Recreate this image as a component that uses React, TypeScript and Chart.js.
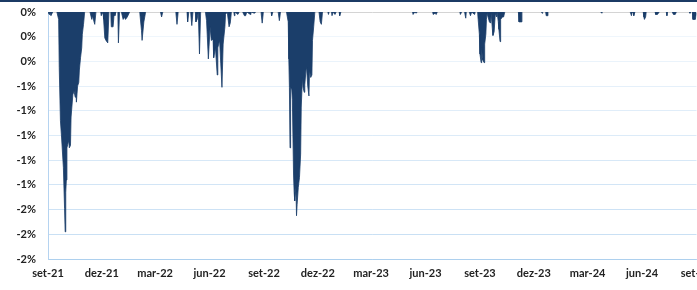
import React, { useEffect, useRef } from "react";
import { Chart, registerables } from "chart.js";

Chart.register(...registerables);

// Days counted from 2021-09-01 (set-21) and the drawdown in % on that day
const drawdownDay: number[] = [
  0, 2, 3, 5, 8,
  15, 18, 19, 21, 23, 26, 28, 29, 30, 31, 32, 35, 36, 38, 39, 42, 44, 46, 47, 48, 50, 52, 53, 55, 57, 58, 60, 62,
  71, 74, 75, 79, 81, 89, 90, 93, 94, 96, 98, 101, 103, 106, 107, 110, 112, 113, 115, 118, 119, 121,
  124, 127, 129, 131, 134, 138, 155, 158, 159, 162, 165, 190, 192, 194, 216, 218, 220, 235, 236, 238,
  241, 243, 245, 249, 250, 252, 254, 256, 258,
  266, 268, 271, 274, 276, 279, 280, 283, 286, 287, 290, 292, 294, 296, 299, 300, 303, 306, 308, 310,
  314, 315, 316, 321, 323, 329, 332, 334, 336, 342, 343, 349, 351, 360, 362, 364, 377, 378, 380, 389, 391, 393,
  403, 406, 407, 408, 409, 410, 412, 413, 415, 416, 417, 419, 420, 421, 423, 425, 427, 428, 430, 431, 433, 434,
  436, 437, 439, 441, 442, 444, 446, 447, 449, 451,
  458, 460, 462, 464, 473, 474, 475, 479, 480, 482, 485, 487, 492, 493, 495,
  616, 617, 620, 622, 624, 650, 651, 654, 656, 658, 696, 697, 699, 704, 706, 707, 712, 714, 716, 721, 722,
  726, 727, 729, 730, 732, 733, 734, 735, 737, 738, 740, 741, 742, 746, 748, 749, 751, 752, 754, 756, 758, 759,
  761, 762, 764, 765, 768, 770, 772, 795, 796, 800, 801, 834, 835, 836, 841, 842, 844, 845,
  934, 936, 937, 984, 986, 987, 989, 990, 992, 1006, 1007, 1008, 1010, 1011, 1026, 1027, 1030, 1033,
  1045, 1046, 1047, 1055, 1057, 1060, 1062, 1084, 1085, 1086, 1089, 1090, 1094, 1096,
];

const drawdownPct: number[] = [
  0, -0.02, 0, -0.03, 0,
  0, -0.06, -0.45, -0.88, -1.02, -1.26, -1.59, -1.78, -1.46, -1.36, -1.1, -1.04, -1.1, -1.08, -0.85, -0.67, -0.64, -0.69, -0.61, -0.73, -0.6, -0.57, -0.47, -0.37, -0.29, -0.18, -0.1, 0,
  0, -0.06, -0.03, -0.1, 0, 0, -0.03, 0, -0.06, -0.21, -0.23, -0.25, 0, 0, -0.12, -0.12, 0, -0.03, 0, 0, -0.25, 0,
  0, -0.06, -0.04, -0.06, -0.04, 0, 0, -0.15, -0.23, -0.08, 0, 0, -0.04, 0, 0, -0.1, 0, 0, -0.08, 0,
  0, -0.11, 0, 0, -0.08, -0.06, 0, -0.34, 0,
  0, -0.07, -0.38, -0.12, -0.23, -0.22, -0.37, -0.29, -0.51, -0.29, -0.23, -0.42, -0.61, -0.26, -0.12, -0.02, 0, -0.12, -0.09, 0,
  0, -0.03, 0, -0.02, 0, 0, -0.03, -0.03, 0, -0.02, 0, -0.01, 0, 0, -0.09, 0, 0, -0.03, 0, 0, -0.07, 0,
  0, -0.08, -0.38, -0.61, -1.1, -0.61, -0.63, -0.71, -1.32, -1.46, -1.53, -1.42, -1.65, -1.56, -1.42, -1.34, -1.15, -0.77, -0.53, -0.61, -0.65, -0.59,
  -0.47, -0.45, -0.6, -0.68, -0.47, -0.53, -0.51, -0.23, -0.12, 0,
  0, -0.08, -0.1, 0, 0, -0.02, 0, 0, -0.03, 0, -0.02, 0, 0, -0.03, 0,
  0, -0.02, 0, -0.01, 0, 0, -0.02, -0.01, -0.02, 0, 0, -0.02, 0, 0, -0.05, 0, 0, -0.03, 0, -0.02, 0,
  0, -0.06, -0.18, -0.34, -0.41, -0.29, -0.37, -0.39, -0.41, -0.26, -0.18, -0.06, -0.01, -0.08, -0.09, -0.01, -0.14, -0.19, -0.16, -0.01, -0.04, 0,
  -0.08, -0.14, -0.24, -0.06, -0.04, -0.04, 0, 0, -0.08, -0.08, 0, 0, -0.01, 0, 0, -0.03, -0.03, 0,
  0, -0.01, 0, 0, -0.03, -0.01, 0, -0.03, 0, 0, -0.04, -0.06, -0.04, 0, 0, -0.02, -0.02, 0,
  0, -0.03, 0, 0, -0.02, -0.02, 0, 0, -0.01, 0, 0, -0.06, -0.06, -0.01,
];

// Quarterly x-axis ticks (days from 2021-09-01) and their labels
const quarterTickDays: number[] = [0, 91, 181, 273, 365, 456, 546, 638, 730, 821, 912, 1004, 1096];
const quarterTickLabels: string[] = [
  "set-21", "dez-21", "mar-22", "jun-22", "set-22", "dez-22", "mar-23",
  "jun-23", "set-23", "dez-23", "mar-24", "jun-24", "set-24",
];

// Y-axis range and step (in %)
const yMin = -2;
const yMax = 0;
const yStep = 0.2;

const NAVY = "#1b3e6a";

function gridColorFor(v: number): string {
  if (Math.abs(v) < 1e-9) return "#d4d4d4";
  const depth = Math.min(1, Math.abs(v) / 2);
  const alpha = 0.12 + depth * 0.5;
  return `rgba(160, 200, 236, ${alpha.toFixed(3)})`;
}

export default function App() {
  const canvasRef = useRef<HTMLCanvasElement | null>(null);

  useEffect(() => {
    const canvas = canvasRef.current;
    if (!canvas) return;
    const points = drawdownDay.map((d, i) => ({ x: d, y: drawdownPct[i] }));

    const chart = new Chart(canvas, {
      type: "line",
      data: {
        datasets: [
          {
            data: points,
            borderColor: NAVY,
            backgroundColor: NAVY,
            borderWidth: 0.8,
            pointRadius: 0,
            tension: 0,
            fill: "origin",
            segment: {
              borderColor: (ctx: any) =>
                ctx.p0.parsed.y === 0 && ctx.p1.parsed.y === 0 ? "rgba(0,0,0,0)" : NAVY,
            },
          },
        ],
      },
      options: {
        animation: false,
        responsive: false,
        devicePixelRatio: 1,
        layout: { padding: { top: 12, right: 43.5, bottom: 0, left: 0 } },
        plugins: { legend: { display: false }, tooltip: { enabled: false } },
        scales: {
          x: {
            type: "linear",
            min: quarterTickDays[0],
            max: quarterTickDays[quarterTickDays.length - 1],
            afterBuildTicks: (scale: any) => {
              scale.ticks = quarterTickDays.map((v) => ({ value: v }));
            },
            afterFit: (scale: any) => {
              scale.height = 31;
            },
            grid: { display: false, drawTicks: false },
            border: { display: true, color: "rgba(160, 200, 236, 0.62)" },
            ticks: {
              autoSkip: false,
              maxRotation: 0,
              padding: 8,
              color: "#222",
              font: { family: "Lato", size: 11, weight: "bold" },
              callback: (v: any) => {
                const i = quarterTickDays.indexOf(Number(v));
                return i >= 0 ? quarterTickLabels[i] : "";
              },
            },
          },
          y: {
            min: yMin,
            max: yMax,
            afterFit: (scale: any) => {
              scale.width = 48;
              scale.paddingTop = 6;
              scale.paddingBottom = 6;
            },
            grid: {
              drawTicks: false,
              color: (ctx: any) => gridColorFor(ctx.tick ? ctx.tick.value : 0),
              lineWidth: 1,
            },
            border: { display: true, color: "#b5d3f0" },
            ticks: {
              stepSize: yStep,
              padding: 12,
              color: "#222",
              font: { family: "Lato", size: 11, weight: "bold" },
              callback: (v: any) => `${Math.round(Number(v))}%`,
            },
          },
        },
      },
    } as any);

    return () => chart.destroy();
  }, []);

  return (
    <div
      style={{
        position: "fixed",
        left: 0,
        top: 0,
        width: 697,
        height: 290,
        overflow: "hidden",
        background: "#fff",
      }}
    >
      <canvas ref={canvasRef} width={740} height={290} style={{ display: "block" }} />
      <div
        style={{
          position: "absolute",
          left: 0,
          top: 0,
          width: "100%",
          height: 2,
          background: "#1b3a64",
        }}
      />
    </div>
  );
}
